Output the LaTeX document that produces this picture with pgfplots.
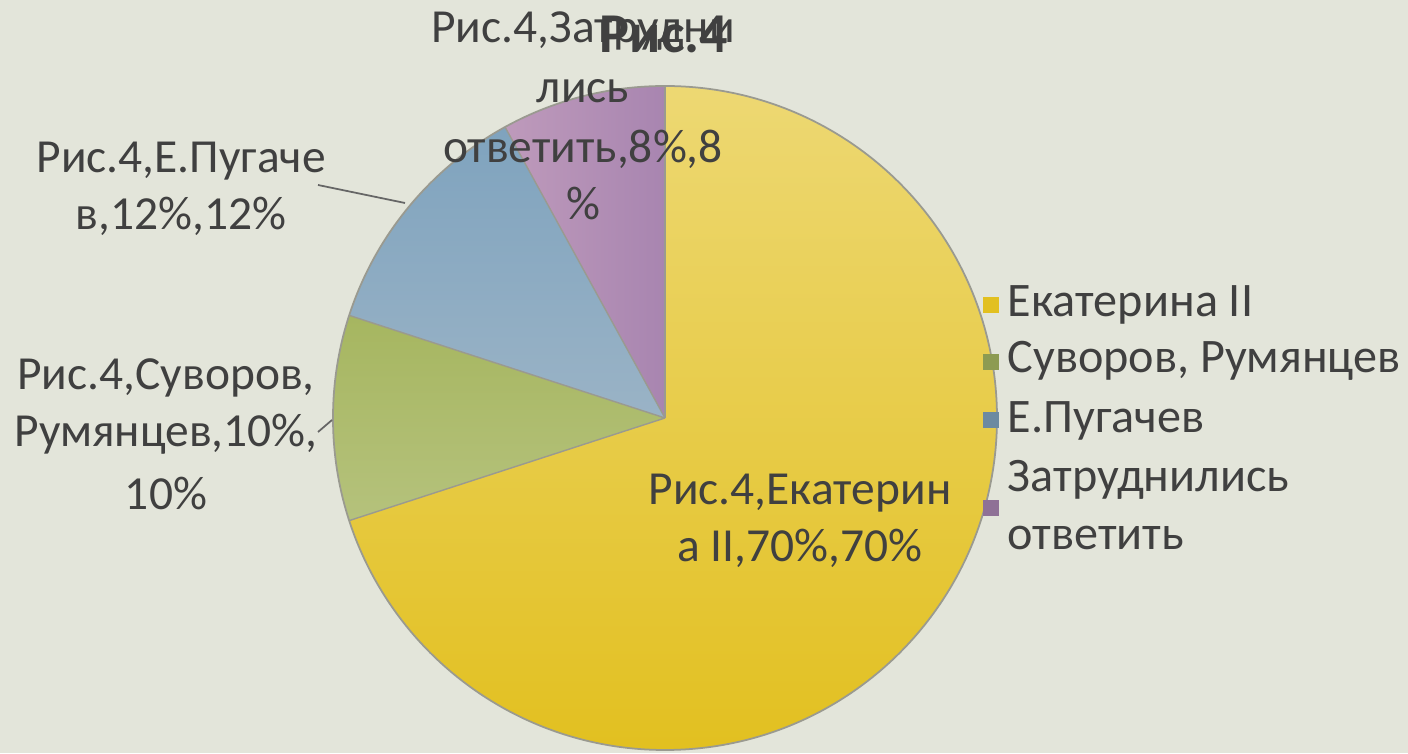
\documentclass[border=0pt]{standalone}
\usepackage{pgfplots}
\usepackage{pgfplotstable}
\pgfplotsset{compat=1.18}
\usepackage{fontspec}
\setmainfont{Carlito}
\definecolor{bgc}{HTML}{E3E5DA}
\definecolor{txt}{HTML}{404040}
\definecolor{yelT}{HTML}{EDD873}
\definecolor{yelB}{HTML}{E2C020}
\definecolor{grnT}{HTML}{A6B660}
\definecolor{grnB}{HTML}{B5C27C}
\definecolor{bluT}{HTML}{7FA3BE}
\definecolor{bluB}{HTML}{9AB3C6}
\definecolor{purL}{HTML}{BE9ABB}
\definecolor{purR}{HTML}{A885B0}
\definecolor{edge}{HTML}{9A9A90}

\pgfplotstableread{
name value
Ekaterina 70
Suvorov 10
Pugachev 12
Zatrud 8
}\piedata
\pgfplotstablegetelem{0}{value}\of\piedata \let\vA\pgfplotsretval
\pgfplotstablegetelem{1}{value}\of\piedata \let\vB\pgfplotsretval
\pgfplotstablegetelem{2}{value}\of\piedata \let\vC\pgfplotsretval
\pgfplotstablegetelem{3}{value}\of\piedata \let\vD\pgfplotsretval
\pgfmathsetmacro\aA{90}
\pgfmathsetmacro\aB{\aA-3.6*\vA}
\pgfmathsetmacro\aC{\aB-3.6*\vB}
\pgfmathsetmacro\aD{\aC-3.6*\vC}
\pgfmathsetmacro\aE{\aD-3.6*\vD}

\begin{document}%
\begin{tikzpicture}
\begin{axis}[
  scale only axis, width=14.08cm, height=7.53cm,
  xmin=0, xmax=1408, ymin=0, ymax=753,
  axis lines=none, ticks=none, clip=false,
  axis background/.style={fill=bgc},
]
\coordinate (BL) at (axis cs:0,0);
\coordinate (TR) at (axis cs:1408,753);
% pie slices
\shade[top color=yelT, bottom color=yelB] (axis cs:665,335) -- ++(\aA:3.32cm) arc[start angle=\aA, end angle=\aB, radius=3.32cm] -- cycle;
\shade[top color=grnT, bottom color=grnB] (axis cs:665,335) -- ++(\aB:3.32cm) arc[start angle=\aB, end angle=\aC, radius=3.32cm] -- cycle;
\shade[top color=bluT, bottom color=bluB] (axis cs:665,335) -- ++(\aC:3.32cm) arc[start angle=\aC, end angle=\aD, radius=3.32cm] -- cycle;
\shade[left color=purL, right color=purR] (axis cs:665,335) -- ++(\aD:3.32cm) arc[start angle=\aD, end angle=\aE, radius=3.32cm] -- cycle;
\draw[edge, line width=0.4pt] (axis cs:665,335) -- ++(\aA:3.32cm);
\draw[edge, line width=0.4pt] (axis cs:665,335) -- ++(\aB:3.32cm);
\draw[edge, line width=0.4pt] (axis cs:665,335) -- ++(\aC:3.32cm);
\draw[edge, line width=0.4pt] (axis cs:665,335) -- ++(\aD:3.32cm);
\draw[edge, line width=0.5pt] (axis cs:665,335) circle[radius=3.32cm];
% leader lines
\draw[txt!80, line width=0.5pt] (axis cs:318,568) -- (axis cs:405,550);
\draw[txt!80, line width=0.5pt] (axis cs:318,321) -- (axis cs:332,333);
% data labels
\begin{scope}[every node/.style={inner sep=0pt, text=txt, font=\fontsize{13.5}{15}\selectfont, anchor=base}]
\node at (axis cs:583,710) {Рис.4,Затрудни};
\node at (axis cs:583,650) {лись};
\node at (axis cs:583,590) {ответить,8\%,8};
\node at (axis cs:583,533) {\%};
\node at (axis cs:181,580) {Рис.4,Е.Пугаче};
\node at (axis cs:181,523) {в,12\%,12\%};
\node at (axis cs:166,363) {Рис.4,Суворов,};
\node at (axis cs:166,306) {Румянцев,10\%,};
\node at (axis cs:166,243) {10\%};
\node at (axis cs:800,248) {Рис.4,Екатерин};
\node at (axis cs:800,191) {а II,70\%,70\%};
\node[font=\fontsize{16}{18}\selectfont\bfseries] at (axis cs:664,700) {Рис.4};
\end{scope}
% legend
\fill[yelB] (axis cs:983,440) rectangle (axis cs:999,456);
\fill[grnT!85!black] (axis cs:983,383) rectangle (axis cs:999,399);
\fill[bluT!85!black] (axis cs:983,325) rectangle (axis cs:999,341);
\fill[purR!85!black] (axis cs:983,237) rectangle (axis cs:999,253);
\begin{scope}[every node/.style={inner sep=0pt, text=txt, font=\fontsize{13.7}{15}\selectfont, anchor=base west}]
\node at (axis cs:1007,436) {Екатерина II};
\node at (axis cs:1007,380) {Суворов, Румянцев};
\node at (axis cs:1007,320) {Е.Пугачев};
\node at (axis cs:1007,261) {Затруднились};
\node at (axis cs:1007,203) {ответить};
\end{scope}
\end{axis}
\pgfresetboundingbox
\useasboundingbox (BL) rectangle (TR);
\end{tikzpicture}%
\end{document}
